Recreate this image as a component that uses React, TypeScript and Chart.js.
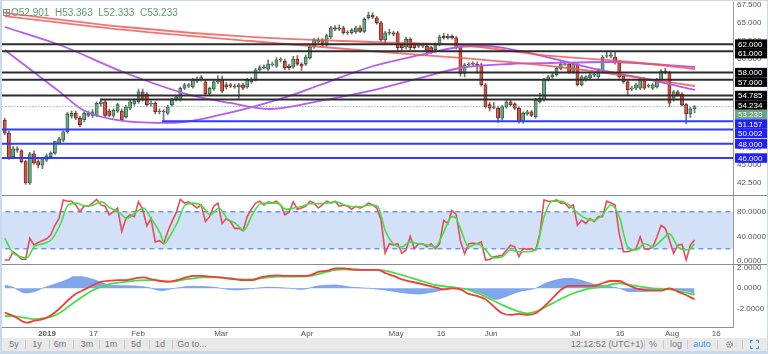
import React, { useEffect, useRef } from 'react';
import { Chart, registerables } from 'chart.js';

Chart.register(...registerables);

// ---------------- DATA ----------------
const opens = [51.35,49.5,46.2,47.1,47.0,45.5,42.5,46.6,45.5,45.0,
45.7,46.2,46.7,48.1,48.5,49.7,51.9,52.3,51.6,51.4,
52.0,52.0,52.0,53.6,53.9,52.6,52.0,52.6,52.6,51.8,
53.0,53.6,53.9,55.3,55.0,53.6,53.7,52.6,52.6,52.3,
53.5,54.2,54.2,55.8,56.1,56.0,56.8,57.0,56.7,55.0,
55.7,56.7,57.0,56.3,56.3,56.1,56.0,56.3,56.0,56.7,
57.0,58.4,58.7,58.5,59.1,58.9,59.8,59.6,58.9,58.8,
59.9,59.2,59.2,60.1,61.6,62.3,62.6,61.9,63.0,64.3,
64.1,64.3,63.7,63.6,63.7,64.3,63.8,65.7,66.1,65.7,
65.0,62.6,63.55,63.6,63.6,61.9,61.6,62.7,62.0,61.7,
61.7,61.7,61.5,61.2,62.0,63.1,62.9,63.1,62.9,61.5,
57.9,59.1,59.2,59.2,59.1,56.3,53.5,53.2,53.0,51.6,
53.2,53.9,53.6,53.0,51.1,52.2,52.5,51.8,53.9,54.2,
57.0,57.4,57.7,58.6,59.15,59.2,58.1,59.2,56.3,57.0,
57.3,57.65,57.4,58.2,60.3,60.3,60.2,59.4,57.5,56.7,
55.7,55.8,55.8,57.1,56.1,55.8,56.0,57.0,58.2,58.0,
54.4,55.3,55.0,53.5,52.2,52.901];
const closes = [49.5,46.0,47.3,47.3,45.5,42.5,46.6,45.3,45.0,45.9,
46.3,46.7,48.3,48.7,49.7,52.2,52.3,51.6,50.7,52.3,
52.3,52.5,53.7,53.9,52.0,52.0,52.7,53.5,51.4,53.2,
53.9,54.0,55.3,54.2,53.5,53.7,52.5,52.5,52.5,53.2,
54.2,54.6,55.8,56.3,56.3,57.0,57.1,57.3,55.0,55.8,
56.7,56.8,55.4,56.0,56.1,56.0,56.3,55.8,57.0,57.0,
58.4,58.7,58.8,59.2,59.2,59.8,59.9,58.7,58.7,59.9,
59.2,58.9,60.2,61.6,62.6,62.6,61.9,63.2,64.3,64.1,
64.3,63.6,63.6,64.0,64.3,63.8,65.5,66.1,65.8,65.0,
62.6,63.6,63.65,63.4,61.5,61.5,62.7,61.5,61.5,61.9,
61.8,60.9,60.9,62.0,63.0,62.9,63.1,62.9,61.5,57.9,
59.1,59.2,59.3,58.9,56.3,53.2,53.0,53.1,51.6,53.2,
53.9,53.5,53.0,51.1,52.3,52.5,52.0,54.2,54.4,57.0,
57.4,57.7,58.6,59.2,59.25,58.1,59.2,56.3,57.4,57.4,
57.7,57.75,58.4,60.2,60.4,60.5,59.4,57.4,56.7,55.6,
55.8,56.3,57.1,55.8,56.2,56.3,57.0,58.2,58.0,53.7,
55.3,54.9,53.5,52.2,52.9,53.233];
const highs = [51.6,49.8,47.6,47.6,47.2,45.7,46.8,47.0,45.8,46.1,
46.6,46.9,48.4,48.9,49.8,52.4,52.6,52.6,51.9,52.5,
52.6,52.8,53.9,54.3,54.2,52.9,52.9,53.7,52.9,53.4,
54.1,54.3,55.7,55.7,55.2,54.0,53.9,52.9,52.8,53.4,
54.4,54.8,56.0,56.5,56.5,57.2,57.4,57.6,57.0,56.0,
56.9,57.6,57.5,56.6,56.5,56.4,56.5,56.5,57.2,57.3,
58.6,59.0,59.1,59.8,59.5,60.1,60.1,59.9,59.2,60.3,
60.4,59.4,60.5,61.8,62.8,62.9,62.8,63.4,64.5,64.6,
64.7,64.5,63.9,64.2,64.5,64.6,65.7,66.5,66.4,65.9,
65.2,63.8,64.1,63.8,63.8,62.1,63.0,62.9,62.2,62.1,
62.0,62.0,61.7,62.2,63.3,63.5,63.4,63.3,63.1,61.7,
59.3,59.4,59.5,59.5,59.3,56.5,53.8,53.8,53.3,53.4,
54.1,54.2,53.8,53.2,52.5,52.7,52.7,54.4,55.1,57.2,
57.6,57.9,58.8,59.6,59.5,59.4,59.4,59.4,57.6,57.6,
57.9,58.0,58.6,60.4,61.0,61.0,60.9,59.6,57.7,56.9,
56.1,56.5,57.3,57.3,56.4,56.5,57.2,58.4,58.6,58.2,
55.5,55.5,55.2,53.7,53.1,53.363];
const lows = [49.3,45.8,45.9,46.8,45.3,42.3,42.3,45.1,44.6,44.5,
45.5,45.9,46.5,47.9,48.3,49.5,51.6,51.4,50.4,51.1,
51.8,51.7,51.8,53.3,51.8,51.8,51.7,52.4,51.2,51.6,
52.8,53.4,53.7,54.0,53.3,53.3,52.2,52.2,51.3,52.1,
53.3,54.0,54.0,55.6,55.9,55.8,56.6,56.8,54.8,54.8,
55.5,56.5,55.2,55.7,55.9,55.8,54.4,55.6,55.8,56.5,
56.8,58.2,58.5,58.3,58.9,58.7,59.5,58.4,58.4,58.6,
59.0,58.3,59.0,59.9,61.4,62.1,61.7,61.7,62.8,63.9,
63.9,63.4,63.3,63.4,63.5,63.6,63.6,65.5,65.6,64.8,
62.4,62.0,63.3,63.2,61.0,61.2,61.3,61.2,61.3,61.5,
61.5,60.4,60.7,61.0,61.8,62.7,62.7,62.7,61.3,57.5,
57.4,58.9,59.0,57.9,56.1,53.0,52.6,52.9,51.0,51.3,
53.0,53.3,52.8,50.9,50.9,52.0,51.8,51.6,53.7,54.0,
56.8,57.2,57.5,58.4,59.0,57.9,57.9,56.1,56.1,56.8,
57.1,57.4,57.2,58.0,60.1,60.1,59.2,57.2,56.5,54.9,
55.5,55.6,55.6,55.6,55.9,55.6,55.8,56.8,57.8,53.2,
54.0,54.7,53.3,50.8,51.7,52.333];

// moving averages (bar index, price)
const redAIdx = [0, 28.8, 58.7, 87.4, 108.9, 130.5, 147.2, 165.1];
const redAVal = [66.38, 64.41, 63.01, 62.30, 61.88, 60.34, 59.63, 58.51];
const redBIdx = [0, 28.8, 58.7, 87.4, 108.9, 130.5, 147.2, 165.1];
const redBVal = [65.95, 63.99, 62.44, 61.04, 60.06, 58.93, 57.67, 56.12];
const purpleSlowIdx = [0, 13.2, 28.3, 44.3, 53.9, 63.5, 75.4, 87.4, 99.4, 108.9, 120.9, 130.5, 144.1, 165.1];
const purpleSlowVal = [64.41, 61.88, 58.09, 54.86, 53.74, 52.89, 54.02, 55.42, 57.25, 58.65, 59.21, 59.35, 59.49, 58.79];
const purpleFastIdx = [0, 13.2, 18.7, 28.3, 39.5, 51.5, 65.9, 75.4, 87.4, 99.4, 108.9, 114.9, 123.3, 130.5, 142.4, 154.4, 165.1];
const purpleFastVal = [61.18, 55.28, 52.75, 51.21, 50.93, 52.05, 54.30, 56.26, 58.79, 60.48, 61.60, 61.74, 61.04, 60.06, 58.37, 56.97, 55.56];

// horizontal levels
const blackLevels = [62, 61, 58, 57, 54.785, 54.234];
const blackLevelStart = [-2, -2, -2, -2, -2, 22.8];
const blueLevels = [51.157, 50.002, 48, 46];
const blueLevelStart = [37.6, -2, -2, -2];
const lastPrice = 53.233;

// stochastic
const stochK = [1.6,1.6,15,10,3,3,37,26,30,33,
36,42,58,69,99,97,97,91,80,89,
89,94,100,91,89,75,80,86,48,69,
75,72,96,84,57,69,31,33,28,48,
64,78,100,94,96,91,86,91,64,72,
89,94,61,69,64,53,53,49,72,84,
94,97,91,96,94,97,91,75,79,96,
84,86,89,97,94,86,91,97,94,97,
89,91,89,84,89,86,89,94,91,86,
67,13,28,26,28,12.5,18,40,20,28,
28,23,28,20,28,66,61,82,75,33,
12,28,29,28,31,1.6,2.6,7,8,9.5,
17.6,25.7,23,7,20,19,20,17.6,44,99,
97,97,99,94,94,86,91,58,66,61,
69,64,72,72,97,94,91,44,15,15,
17.6,20,39,20,19,23,39,58,53,34,
12.5,25.7,27,1.6,25.7,34];
const stochDIdx = [0,2,3,5.2,7.2,9.2,11.2,13.2,15.2,17.2,19.2,21.2,23.2,25.2,27.2,29.2,31.2,33.2,35.2,37.2,38.2,
39.2,41.2,43.2,45.2,47.2,49.2,51.2,53.2,55.2,57.2,59.2,61.2,63.2,65.2,67.2,69.2,71.2,73.2,75.2,77.2,79.2,81.2,83.2,85.2,87.2,89.2,
91,93,95,97,99,101,103,105,107,108,
109,111,113,115,117,119,121,123,125,127,129,131,133,135,137,139,141,143,145,147,149,151,153,155,157,159,161,163,164,165];
const stochDVal = [37,13,9,5,24,28,35,58,91,94,89,91,96,86,80,69,78,86,67,45,28,
37,61,91,94,89,75,86,69,61,50,75,93,94,94,84,86,89,93,93,94,96,91,88,88,91,89,
50,28,23,31,28,26,23,47,72,69,
53,23,28,18,5,7,18,15,15,18,72,97,97,91,78,69,66,75,91,72,23,18,28,23,33,44,23,18,20,28];
const stochBandTop = 80;
const stochBandBottom = 20;

// MACD
const macdIdx = [0,2.4,5.2,7.2,9.2,11.2,13.2,15.2,17.2,19.2,21.2,23.2,25.2,27.2,29.2,31.2,33.2,35.2,37.2,39.2,41.2,43.2,45.2,47.2,49.2,51.2,53.2,55.2,57.2,59.2,61.2,63.2,65.2,67.2,69.2,71.2,73.2,75.2,77.2,79.2,81.2,83.2,85.2,87.2,89.2,91.2,
93,95,99,103,105,107,109,111,113,115,117,119,121,123,125,127,129,131,133,135,137,139,141,143,145,147,149,151,153,155,157,159,161,163,165];
const macdVal = [-2.37,-2.75,-3.34,-3.14,-3.0,-2.59,-1.94,-1.14,-0.49,-0.1,0.32,0.64,0.74,0.8,0.8,0.97,1.06,0.87,0.71,0.64,0.8,1.03,1.2,1.2,1.13,1.06,0.97,0.87,0.8,0.8,1.06,1.2,1.26,1.2,1.2,1.2,1.29,1.61,1.71,1.94,1.94,1.84,1.78,1.78,1.78,1.46,
1.2,0.87,0.49,0.1,-0.1,0,-0.1,-0.55,-0.74,-1.07,-1.78,-2.43,-2.59,-2.49,-2.59,-2.43,-1.78,-0.97,-0.16,0.23,0.23,0.23,0.23,0.49,0.71,0.71,0.32,0,-0.16,-0.23,-0.23,0,-0.32,-0.65,-1.07];
const signalIdx = [0,3.2,7.2,9.2,11.2,13.2,15.2,17.2,19.2,21.2,23.2,25.2,27.2,29.2,31.2,33.2,35.2,37.2,39.2,41.2,43.2,45.2,47.2,49.2,51.2,53.2,55.2,57.2,59.2,61.2,63.2,65.2,67.2,69.2,71.2,73.2,75.2,77.2,79.2,81.2,83.2,85.2,87.2,89.2,
91,95,99,103,107,111,115,119,123,125,127,131,135,139,143,147,151,155,159,163,165];
const signalVal = [-2.69,-2.75,-3.0,-2.9,-2.75,-2.37,-1.79,-1.2,-0.65,-0.17,0.16,0.42,0.55,0.64,0.74,0.8,0.8,0.74,0.64,0.7,0.87,0.97,1.06,1.06,1.06,1.0,0.9,0.87,0.87,0.97,1.06,1.13,1.13,1.13,1.13,1.2,1.39,1.61,1.78,1.84,1.78,1.78,1.78,1.78,
1.71,1.29,0.8,0.32,0.1,-0.16,-0.81,-1.62,-2.27,-2.43,-2.27,-1.46,-0.65,-0.1,0.16,0.49,0.23,0,-0.1,-0.42,-0.65];
const histIdx = [0,2,5,8,9,12,15,16.4,18,20,21.6,25,28,31,34,37.6,40,45,50,55,60,63,68,71,75,79,83,87,91,95,99,103,107,111,115,117.4,119.8,123,127,129.4,132.6,135,138.2,140.6,143.8,147,149.4,152.6,155.8,159,161.4,163.8,165];
const histVal = [0.3,0.1,-0.45,-0.2,0,0.4,0.85,1.13,1.13,1.0,0.8,0.32,0.25,0.23,0.1,-0.22,-0.05,0.2,0.1,-0.16,0,0.1,0,-0.1,0.23,0.32,0.1,0,-0.16,-0.42,-0.55,-0.32,0,-0.1,-0.65,-1.07,-0.81,-0.32,0,0.49,0.87,0.97,0.74,0.42,0.23,0,-0.32,-0.32,-0.16,0,-0.16,-0.32,-0.55];

// axes
const timeTickIdx = [10.12, 21.24, 31.89, 51.75, 72.32, 93.61, 104.38, 116.34, 136.43, 147.19, 159.63, 170.17];
const timeTickLabels = ['2019', '17', 'Feb', 'Mar', 'Apr', 'May', '16', 'Jun', 'Jul', '16', 'Aug', '16'];
const priceTicks = [42.5, 45, 47.5, 50, 52.5, 55, 57.5, 60, 62.5, 65, 67.5];
const stochTicks = [0, 40, 80];
const macdTicks = [-2, 0, 2];

const toolbarLeft = ['5y', '1y', '6m', '3m', '1m', '5d', '1d', 'Go to...'];

// ---------------- STYLE ----------------
const FONT = "'Liberation Sans', Arial, sans-serif";
const UP = '#6ba583', DOWN = '#d75442', UP_B = '#225437', DOWN_B = '#5b1a13', WICK = '#737375';
const LEVEL_BLACK = '#2d2d2d', LEVEL_BLUE = '#2f3cff', BOX_BLUE = '#1f1fff';
const X_MIN = -0.65, X_MAX = 174.2;

const xy = (xs: number[], ys: number[]) => xs.map((x, i) => ({ x, y: ys[i] }));
const hline = (v: number, start: number) => [{ x: start, y: v }, { x: 180, y: v }];

const zeroPad = (s: any) => { s.paddingTop = 0; s.paddingBottom = 0; s.paddingLeft = 0; s.paddingRight = 0; };

const frameAndLabels = {
  id: 'frameAndLabels',
  beforeDraw(chart: any) {
    const { ctx, width, height } = chart;
    ctx.save();
    ctx.fillStyle = '#ffffff';
    ctx.fillRect(0, 0, width, height);
    ctx.restore();
  },
  afterDraw(chart: any) {
    const { ctx, width } = chart;
    const ys = chart.scales.yMain, ySt = chart.scales.yStoch, yM = chart.scales.yMacd;
    const area = chart.chartArea;
    ctx.save();
    // pane separators
    ctx.strokeStyle = '#8c8c8c';
    ctx.lineWidth = 1;
    [ySt.top, yM.top].forEach((t: number) => {
      ctx.beginPath();
      ctx.moveTo(area.left, Math.round(t) + 0.5);
      ctx.lineTo(width, Math.round(t) + 0.5);
      ctx.stroke();
    });
    // price label boxes
    const items: { v: number; bg: string }[] = [];
    blackLevels.forEach((v) => items.push({ v, bg: '#000000' }));
    items.push({ v: lastPrice, bg: UP });
    blueLevels.forEach((v) => items.push({ v, bg: BOX_BLUE }));
    items.sort((a, b) => b.v - a.v);
    const h = 9.5;
    let prevBottom = -1e9;
    ctx.font = `8px ${FONT}`;
    ctx.textBaseline = 'middle';
    ctx.textAlign = 'left';
    items.forEach((it) => {
      const c = ys.getPixelForValue(it.v);
      const top = Math.max(c - h / 2, prevBottom);
      ctx.fillStyle = it.bg;
      ctx.fillRect(area.right + 2, top, width - area.right - 2, h);
      ctx.fillStyle = '#ffffff';
      ctx.fillText(it.v.toFixed(3), area.right + 5, top + h / 2 + 0.5);
      prevBottom = top + h;
    });
    // OHLC legend
    const n = closes.length - 1;
    ctx.strokeStyle = '#8a8a8a';
    ctx.lineWidth = 1;
    ctx.strokeRect(3.5, 9.5, 6, 6);
    ctx.beginPath();
    ctx.moveTo(6.5, 9.5); ctx.lineTo(6.5, 15.5);
    ctx.moveTo(3.5, 12.5); ctx.lineTo(9.5, 12.5);
    ctx.stroke();
    ctx.font = `10px ${FONT}`;
    ctx.fillStyle = '#5e9a70';
    ctx.textBaseline = 'middle';
    const txt = `O${opens[n].toFixed(3)}  H${highs[n].toFixed(3)}  L${lows[n].toFixed(3)}  C${closes[n].toFixed(3)}`;
    ctx.fillText(txt, 11, 13);
    ctx.restore();
  },
};

export default function App() {
  const ref = useRef<HTMLCanvasElement>(null);
  useEffect(() => {
    const canvas = ref.current;
    if (!canvas) return;
    const lineBase = { type: 'line' as const, pointRadius: 0, fill: false, tension: 0 };
    const datasets: any[] = [
      // stochastic band
      { ...lineBase, data: hline(stochBandTop, -2), yAxisID: 'yStoch', borderColor: '#6b9be6', borderWidth: 1.5, borderDash: [5, 4], order: 20 },
      { ...lineBase, data: hline(stochBandBottom, -2), yAxisID: 'yStoch', borderColor: '#6b9be6', borderWidth: 1.5, borderDash: [5, 4], fill: '-1', backgroundColor: '#d2e1f7', order: 20 },
      // candles
      {
        type: 'bar', data: highs.map((hv, i) => ({ x: i, y: [lows[i], hv] })), yAxisID: 'yMain',
        backgroundColor: WICK, barThickness: 1, grouped: false, order: 12,
      },
      {
        type: 'bar', data: opens.map((o, i) => ({ x: i, y: [o, closes[i]] })), yAxisID: 'yMain',
        backgroundColor: opens.map((o, i) => (closes[i] >= o ? UP : DOWN)),
        borderColor: opens.map((o, i) => (closes[i] >= o ? UP_B : DOWN_B)),
        borderWidth: 0.8, borderSkipped: false, barThickness: 3.2, grouped: false, order: 11,
      },
      // moving averages
      { ...lineBase, data: xy(purpleSlowIdx, purpleSlowVal), yAxisID: 'yMain', borderColor: '#b45cf2', borderWidth: 1.8, cubicInterpolationMode: 'monotone', order: 8 },
      { ...lineBase, data: xy(purpleFastIdx, purpleFastVal), yAxisID: 'yMain', borderColor: '#b45cf2', borderWidth: 1.8, cubicInterpolationMode: 'monotone', order: 8 },
      { ...lineBase, data: xy(redAIdx, redAVal), yAxisID: 'yMain', borderColor: 'rgba(244,80,80,0.8)', borderWidth: 1.8, cubicInterpolationMode: 'monotone', order: 7 },
      { ...lineBase, data: xy(redBIdx, redBVal), yAxisID: 'yMain', borderColor: 'rgba(244,80,80,0.8)', borderWidth: 1.8, cubicInterpolationMode: 'monotone', order: 7 },
      // levels
      ...blackLevels.map((v, i) => ({ ...lineBase, data: hline(v, blackLevelStart[i]), yAxisID: 'yMain', borderColor: LEVEL_BLACK, borderWidth: 2, order: 5 })),
      ...blueLevels.map((v, i) => ({ ...lineBase, data: hline(v, blueLevelStart[i]), yAxisID: 'yMain', borderColor: LEVEL_BLUE, borderWidth: 2, order: 5 })),
      { ...lineBase, data: hline(lastPrice, -2), yAxisID: 'yMain', borderColor: '#6ba583', borderWidth: 1, borderDash: [1, 2], order: 5 },
      // stochastic lines
      { ...lineBase, data: stochK.map((v, i) => ({ x: i, y: v })), yAxisID: 'yStoch', borderColor: '#e94b5c', borderWidth: 1.6, order: 3 },
      { ...lineBase, data: xy(stochDIdx, stochDVal), yAxisID: 'yStoch', borderColor: '#43e043', borderWidth: 1.6, cubicInterpolationMode: 'monotone', order: 2 },
      // MACD
      { ...lineBase, data: xy(histIdx, histVal), yAxisID: 'yMacd', borderColor: 'rgba(100,150,232,0.7)', borderWidth: 1, fill: 'origin', backgroundColor: 'rgba(96,145,230,0.8)', cubicInterpolationMode: 'monotone', order: 4 },
      { ...lineBase, data: xy(signalIdx, signalVal), yAxisID: 'yMacd', borderColor: '#46e046', borderWidth: 1.8, cubicInterpolationMode: 'monotone', order: 2 },
      { ...lineBase, data: xy(macdIdx, macdVal), yAxisID: 'yMacd', borderColor: '#f23b3b', borderWidth: 1.8, cubicInterpolationMode: 'monotone', order: 1 },
    ];

    const yCommon = {
      position: 'right' as const,
      stack: 'panes',
      grid: { display: false, drawTicks: false },
      border: { display: true, color: '#9a9a9a' },
      ticks: { font: { size: 8, family: FONT }, color: '#555555', padding: 4, autoSkip: false },
      afterFit: (s: any) => { s.width = 35; zeroPad(s); },
    };

    const chart = new Chart(canvas, {
      type: 'bar',
      data: { datasets },
      options: {
        responsive: false,
        animation: false,
        devicePixelRatio: 1,
        events: [],
        layout: { padding: { left: 2, top: 2, right: 0, bottom: 0 } },
        plugins: { legend: { display: false }, tooltip: { enabled: false } },
        scales: {
          x: {
            type: 'linear', min: X_MIN, max: X_MAX, offset: false,
            grid: { display: false, drawTicks: false },
            border: { display: true, color: '#8c8c8c' },
            ticks: {
              autoSkip: false, maxRotation: 0, padding: 2, color: '#555555',
              font: (c: any) => ({ size: 8, family: FONT, weight: c.tick && c.tick.label === '2019' ? 'bold' : 'normal' }),
              callback: (_v: any, i: number) => timeTickLabels[i],
            },
            afterBuildTicks: (s: any) => { s.ticks = timeTickIdx.map((v) => ({ value: v })); },
            afterFit: (s: any) => { s.height = 11; zeroPad(s); },
          },
          yMain: {
            ...yCommon, stackWeight: 193, min: 40.81, max: 67.92,
            ticks: { ...yCommon.ticks, callback: (v: any) => Number(v).toFixed(3) },
            afterBuildTicks: (s: any) => { s.ticks = priceTicks.map((v) => ({ value: v })); },
          },
          yStoch: {
            ...yCommon, stackWeight: 69, min: -4.8, max: 107.1,
            ticks: { ...yCommon.ticks, callback: (v: any) => Number(v).toFixed(4) },
            afterBuildTicks: (s: any) => { s.ticks = stochTicks.map((v) => ({ value: v })); },
          },
          yMacd: {
            ...yCommon, stackWeight: 63, min: -3.76, max: 2.36,
            ticks: { ...yCommon.ticks, callback: (v: any) => Number(v).toFixed(4) },
            afterBuildTicks: (s: any) => { s.ticks = macdTicks.map((v) => ({ value: v })); },
          },
        },
      } as any,
      plugins: [frameAndLabels],
    });
    return () => chart.destroy();
  }, []);

  const leftCenters = [14, 37, 60, 87, 111, 136, 160, 192];
  const leftSeps = [25, 49, 73, 99, 124, 149, 172];
  const rightSeps = [644, 663, 687, 717, 742];
  const txt: React.CSSProperties = { position: 'absolute', top: 1, transform: 'translateX(-50%)', fontSize: 9, color: '#777', whiteSpace: 'nowrap', lineHeight: '11px' };
  const sep = (x: number) => <div key={'s' + x} style={{ position: 'absolute', left: x, top: 2, width: 1, height: 9, background: '#c9c9c9' }} />;

  return (
    <div style={{ position: 'relative', width: 768, height: 354, background: '#fff', overflow: 'hidden', fontFamily: FONT }}>
      <style>{'body{margin:0}'}</style>
      <canvas ref={ref} width={768} height={338} style={{ display: 'block', width: 768, height: 338 }} />
      <div style={{ position: 'absolute', left: 0, top: 338, width: 768, height: 13, background: '#e9e9e9' }}>
        {toolbarLeft.map((t, i) => <span key={t} style={{ ...txt, left: leftCenters[i] }}>{t}</span>)}
        {leftSeps.map(sep)}
        {rightSeps.map(sep)}
        <span style={{ ...txt, left: 607 }}>12:12:52 (UTC+1)</span>
        <span style={{ ...txt, left: 653 }}>%</span>
        <span style={{ ...txt, left: 676 }}>log</span>
        <span style={{ ...txt, left: 702, color: '#2d9cf0' }}>auto</span>
        <svg style={{ position: 'absolute', left: 725, top: 2 }} width={9} height={9} viewBox="0 0 9 9">
          <circle cx={4.5} cy={4.5} r={2.6} fill="none" stroke="#8a8a8a" strokeWidth={1.4} strokeDasharray="1.6 0.8" />
          <circle cx={4.5} cy={4.5} r={1} fill="#8a8a8a" />
        </svg>
        <svg style={{ position: 'absolute', left: 750, top: 2 }} width={9} height={9} viewBox="0 0 9 9">
          <path d="M0.5 3V0.5H3M6 0.5H8.5V3M8.5 6V8.5H6M3 8.5H0.5V6" fill="none" stroke="#2d9cf0" strokeWidth={1.2} />
        </svg>
      </div>
      <div style={{ position: 'absolute', left: 0, top: 0, width: 2, height: 354, background: '#c9d8ea' }} />
      <div style={{ position: 'absolute', left: 0, top: 0, width: 768, height: 1, background: '#c9d8ea' }} />
      <div style={{ position: 'absolute', right: 0, top: 0, width: 1, height: 354, background: '#c9d8ea' }} />
      <div style={{ position: 'absolute', left: 0, top: 351, width: 768, height: 3, background: '#c9d8ea' }} />
    </div>
  );
}
